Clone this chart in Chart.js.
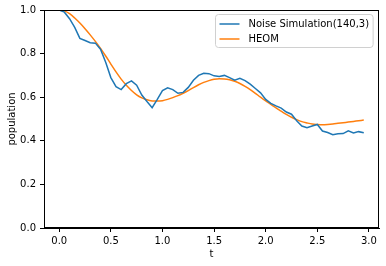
<!DOCTYPE html>
<html>
<head>
<meta charset="utf-8">
<script src="https://cdn.jsdelivr.net/npm/chart.js@4.4.1/dist/chart.umd.min.js"></script>
<style>
  html, body { margin: 0; padding: 0; background: #fff; }
  #wrap { width: 386px; height: 266px; }
</style>
</head>
<body>
<div id="wrap"><canvas id="popChart" width="386" height="266"></canvas></div>
<script>
// time samples
const times = [
    0.00, 0.05, 0.10, 0.15, 0.20, 0.25, 0.30, 0.35, 0.40, 0.45,
    0.50, 0.55, 0.60, 0.65, 0.70, 0.75, 0.80, 0.85, 0.90, 0.95,
    1.00, 1.05, 1.10, 1.15, 1.20, 1.25, 1.30, 1.35, 1.40, 1.45,
    1.50, 1.55, 1.60, 1.65, 1.70, 1.75, 1.80, 1.85, 1.90, 1.95,
    2.00, 2.05, 2.10, 2.15, 2.20, 2.25, 2.30, 2.35, 2.40, 2.45,
    2.50, 2.55, 2.60, 2.65, 2.70, 2.75, 2.80, 2.85, 2.90, 2.95
];

// Noise Simulation(140,3)
const noiseValues = [
    1.000, 0.990, 0.960, 0.920, 0.870, 0.860, 0.850, 0.848, 0.820, 0.760,
    0.690, 0.648, 0.635, 0.662, 0.675, 0.655, 0.610, 0.580, 0.552, 0.590,
    0.630, 0.643, 0.635, 0.618, 0.622, 0.645, 0.678, 0.700, 0.710, 0.708,
    0.698, 0.695, 0.700, 0.690, 0.678, 0.687, 0.676, 0.660, 0.640, 0.620,
    0.590, 0.572, 0.560, 0.550, 0.532, 0.522, 0.492, 0.468, 0.460, 0.468,
    0.475, 0.445, 0.438, 0.428, 0.432, 0.433, 0.446, 0.436, 0.442, 0.437
];

// HEOM
const heomValues = [
    1.000, 0.996, 0.983, 0.963, 0.940, 0.914, 0.886, 0.856, 0.824, 0.789,
    0.752, 0.716, 0.683, 0.655, 0.631, 0.611, 0.597, 0.588, 0.583, 0.582,
    0.584, 0.590, 0.598, 0.607, 0.618, 0.630, 0.644, 0.657, 0.668, 0.676,
    0.682, 0.685, 0.684, 0.680, 0.673, 0.663, 0.650, 0.635, 0.618, 0.600,
    0.583, 0.567, 0.551, 0.536, 0.521, 0.508, 0.497, 0.488, 0.482, 0.477,
    0.475, 0.474, 0.475, 0.477, 0.480, 0.483, 0.486, 0.489, 0.492, 0.495
];

// tick labels
const xTicks = [0.0, 0.5, 1.0, 1.5, 2.0, 2.5, 3.0];
const yTicks = [0.0, 0.2, 0.4, 0.6, 0.8, 1.0];

const FONT = 'DejaVu Sans';

function toPoints(xs, ys) {
    return xs.map((x, i) => ({ x: x, y: ys[i] }));
}

// Frame around the axes (matplotlib style spines)
const framePlugin = {
    id: 'frame',
    afterDraw(chart) {
        const { ctx, chartArea: a } = chart;
        ctx.save();
        ctx.strokeStyle = '#000';
        ctx.lineWidth = 1;
        ctx.strokeRect(Math.round(a.left) + 0.5, Math.round(a.top) + 0.5,
            Math.round(a.right - a.left) - 1, Math.round(a.bottom - a.top) - 1);
        ctx.restore();
    }
};

// Legend inside the axes, upper right
const insideLegend = {
    id: 'insideLegend',
    afterDraw(chart) {
        const { ctx, chartArea: a } = chart;
        const sets = chart.data.datasets;
        ctx.save();
        ctx.font = '10px "' + FONT + '"';
        let textW = 0;
        sets.forEach(ds => { textW = Math.max(textW, ctx.measureText(ds.label).width); });
        const rowH = 15;
        const w = 4 + 20 + 9 + textW + 4;
        const h = sets.length * rowH + 3;
        const x0 = Math.round(a.right - 6 - w) + 0.5;
        const y0 = Math.round(a.top + 4) + 0.5;

        ctx.fillStyle = 'rgba(255,255,255,0.8)';
        ctx.strokeStyle = '#d0d0d0';
        ctx.lineWidth = 1;
        ctx.beginPath();
        ctx.roundRect(x0, y0, w, h, 3);
        ctx.fill();
        ctx.stroke();

        sets.forEach((ds, i) => {
            const cy = y0 + 9.5 + i * rowH;
            ctx.strokeStyle = ds.borderColor;
            ctx.lineWidth = 1.5;
            ctx.beginPath();
            ctx.moveTo(x0 + 4, cy);
            ctx.lineTo(x0 + 24, cy);
            ctx.stroke();
            ctx.fillStyle = '#000';
            ctx.textBaseline = 'middle';
            ctx.textAlign = 'left';
            ctx.fillText(ds.label, x0 + 33, cy);
        });
        ctx.restore();
    }
};

const ctx = document.getElementById('popChart');

new Chart(ctx, {
    type: 'line',
    data: {
        datasets: [{
            label: 'Noise Simulation(140,3)',
            data: toPoints(times, noiseValues),
            borderColor: '#1f77b4',
            borderWidth: 1.5,
            pointRadius: 0,
            tension: 0,
            fill: false
        }, {
            label: 'HEOM',
            data: toPoints(times, heomValues),
            borderColor: '#ff7f0e',
            borderWidth: 1.5,
            pointRadius: 0,
            cubicInterpolationMode: 'monotone',
            fill: false
        }]
    },
    options: {
        responsive: false,
        animation: false,
        devicePixelRatio: 1,
        layout: { padding: { top: 10, right: 7, left: 0, bottom: 0 } },
        plugins: {
            legend: { display: false },
            tooltip: { enabled: false }
        },
        scales: {
            x: {
                type: 'linear',
                min: -0.1475,
                max: 3.0975,
                afterBuildTicks: s => { s.ticks = xTicks.map(v => ({ value: v })); },
                afterFit: s => { s.height = 38; },
                grid: { display: true, drawOnChartArea: false, drawTicks: true, tickLength: 4, color: '#000' },
                border: { display: true, color: '#000', width: 1 },
                ticks: {
                    padding: 3,
                    color: '#000',
                    maxRotation: 0,
                    autoSkip: false,
                    font: { family: FONT, size: 10 },
                    callback: v => Number(v).toFixed(1)
                },
                title: {
                    display: true,
                    text: 't',
                    color: '#000',
                    font: { family: FONT, size: 10 },
                    padding: { top: 0, bottom: 6 }
                }
            },
            y: {
                min: 0,
                max: 1,
                afterBuildTicks: s => { s.ticks = yTicks.map(v => ({ value: v })); },
                afterFit: s => { s.width = 44; },
                grid: { display: true, drawOnChartArea: false, drawTicks: true, tickLength: 4, color: '#000' },
                border: { display: true, color: '#000', width: 1 },
                ticks: {
                    padding: 4,
                    color: '#000',
                    autoSkip: false,
                    font: { family: FONT, size: 10 },
                    callback: v => Number(v).toFixed(1)
                },
                title: {
                    display: true,
                    text: 'population',
                    color: '#000',
                    font: { family: FONT, size: 10 },
                    padding: { top: 6, bottom: 0 }
                }
            }
        }
    },
    plugins: [framePlugin, insideLegend]
});
</script>
</body>
</html>
